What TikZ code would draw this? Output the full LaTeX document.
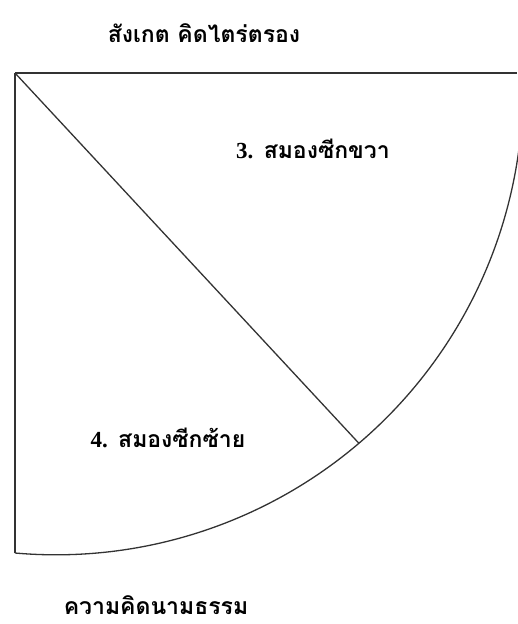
\documentclass[tikz,border=0pt]{standalone}
\usepackage{fontspec}
\setmainfont{Liberation Serif}
\newfontfamily\thaifont[Script=Thai]{Loma}

\tikzset{
  thaitext/.style={font=\thaifont\bfseries\fontsize{23}{26}\selectfont, inner sep=0pt, anchor=base},
  edge/.style={line width=1.3pt, black!80}
}

\begin{document}
\begin{tikzpicture}[x=1pt,y=-1pt]
            \useasboundingbox (0,0) rectangle (517,624);

            \coordinate (O) at (15,73);
            \coordinate (R) at (517,73);
            \coordinate (L) at (15,553);
            \coordinate (M) at (359,443.4);

            \draw[edge] (O)--(R);
            \draw[edge] (O)--(L);
            \draw[edge] (O)--(M);

            % quarter arc, centre (56,88)
            \draw[edge] (L) arc[start angle=95.04, end angle=-1.84, radius=467];

            \node[thaitext] (top) at (204,42) {สังเกต คิดไตร่ตรอง};
            \node[thaitext, anchor=base west] (right) at (236,158) {{\rmfamily 3.} สมองซีกขวา};
            \node[thaitext] (left) at (168,447) {{\rmfamily 4.} สมองซีกซ้าย};
            \node[thaitext] (bottom) at (156,614) {ความคิดนามธรรม};
        \end{tikzpicture}
\end{document}
